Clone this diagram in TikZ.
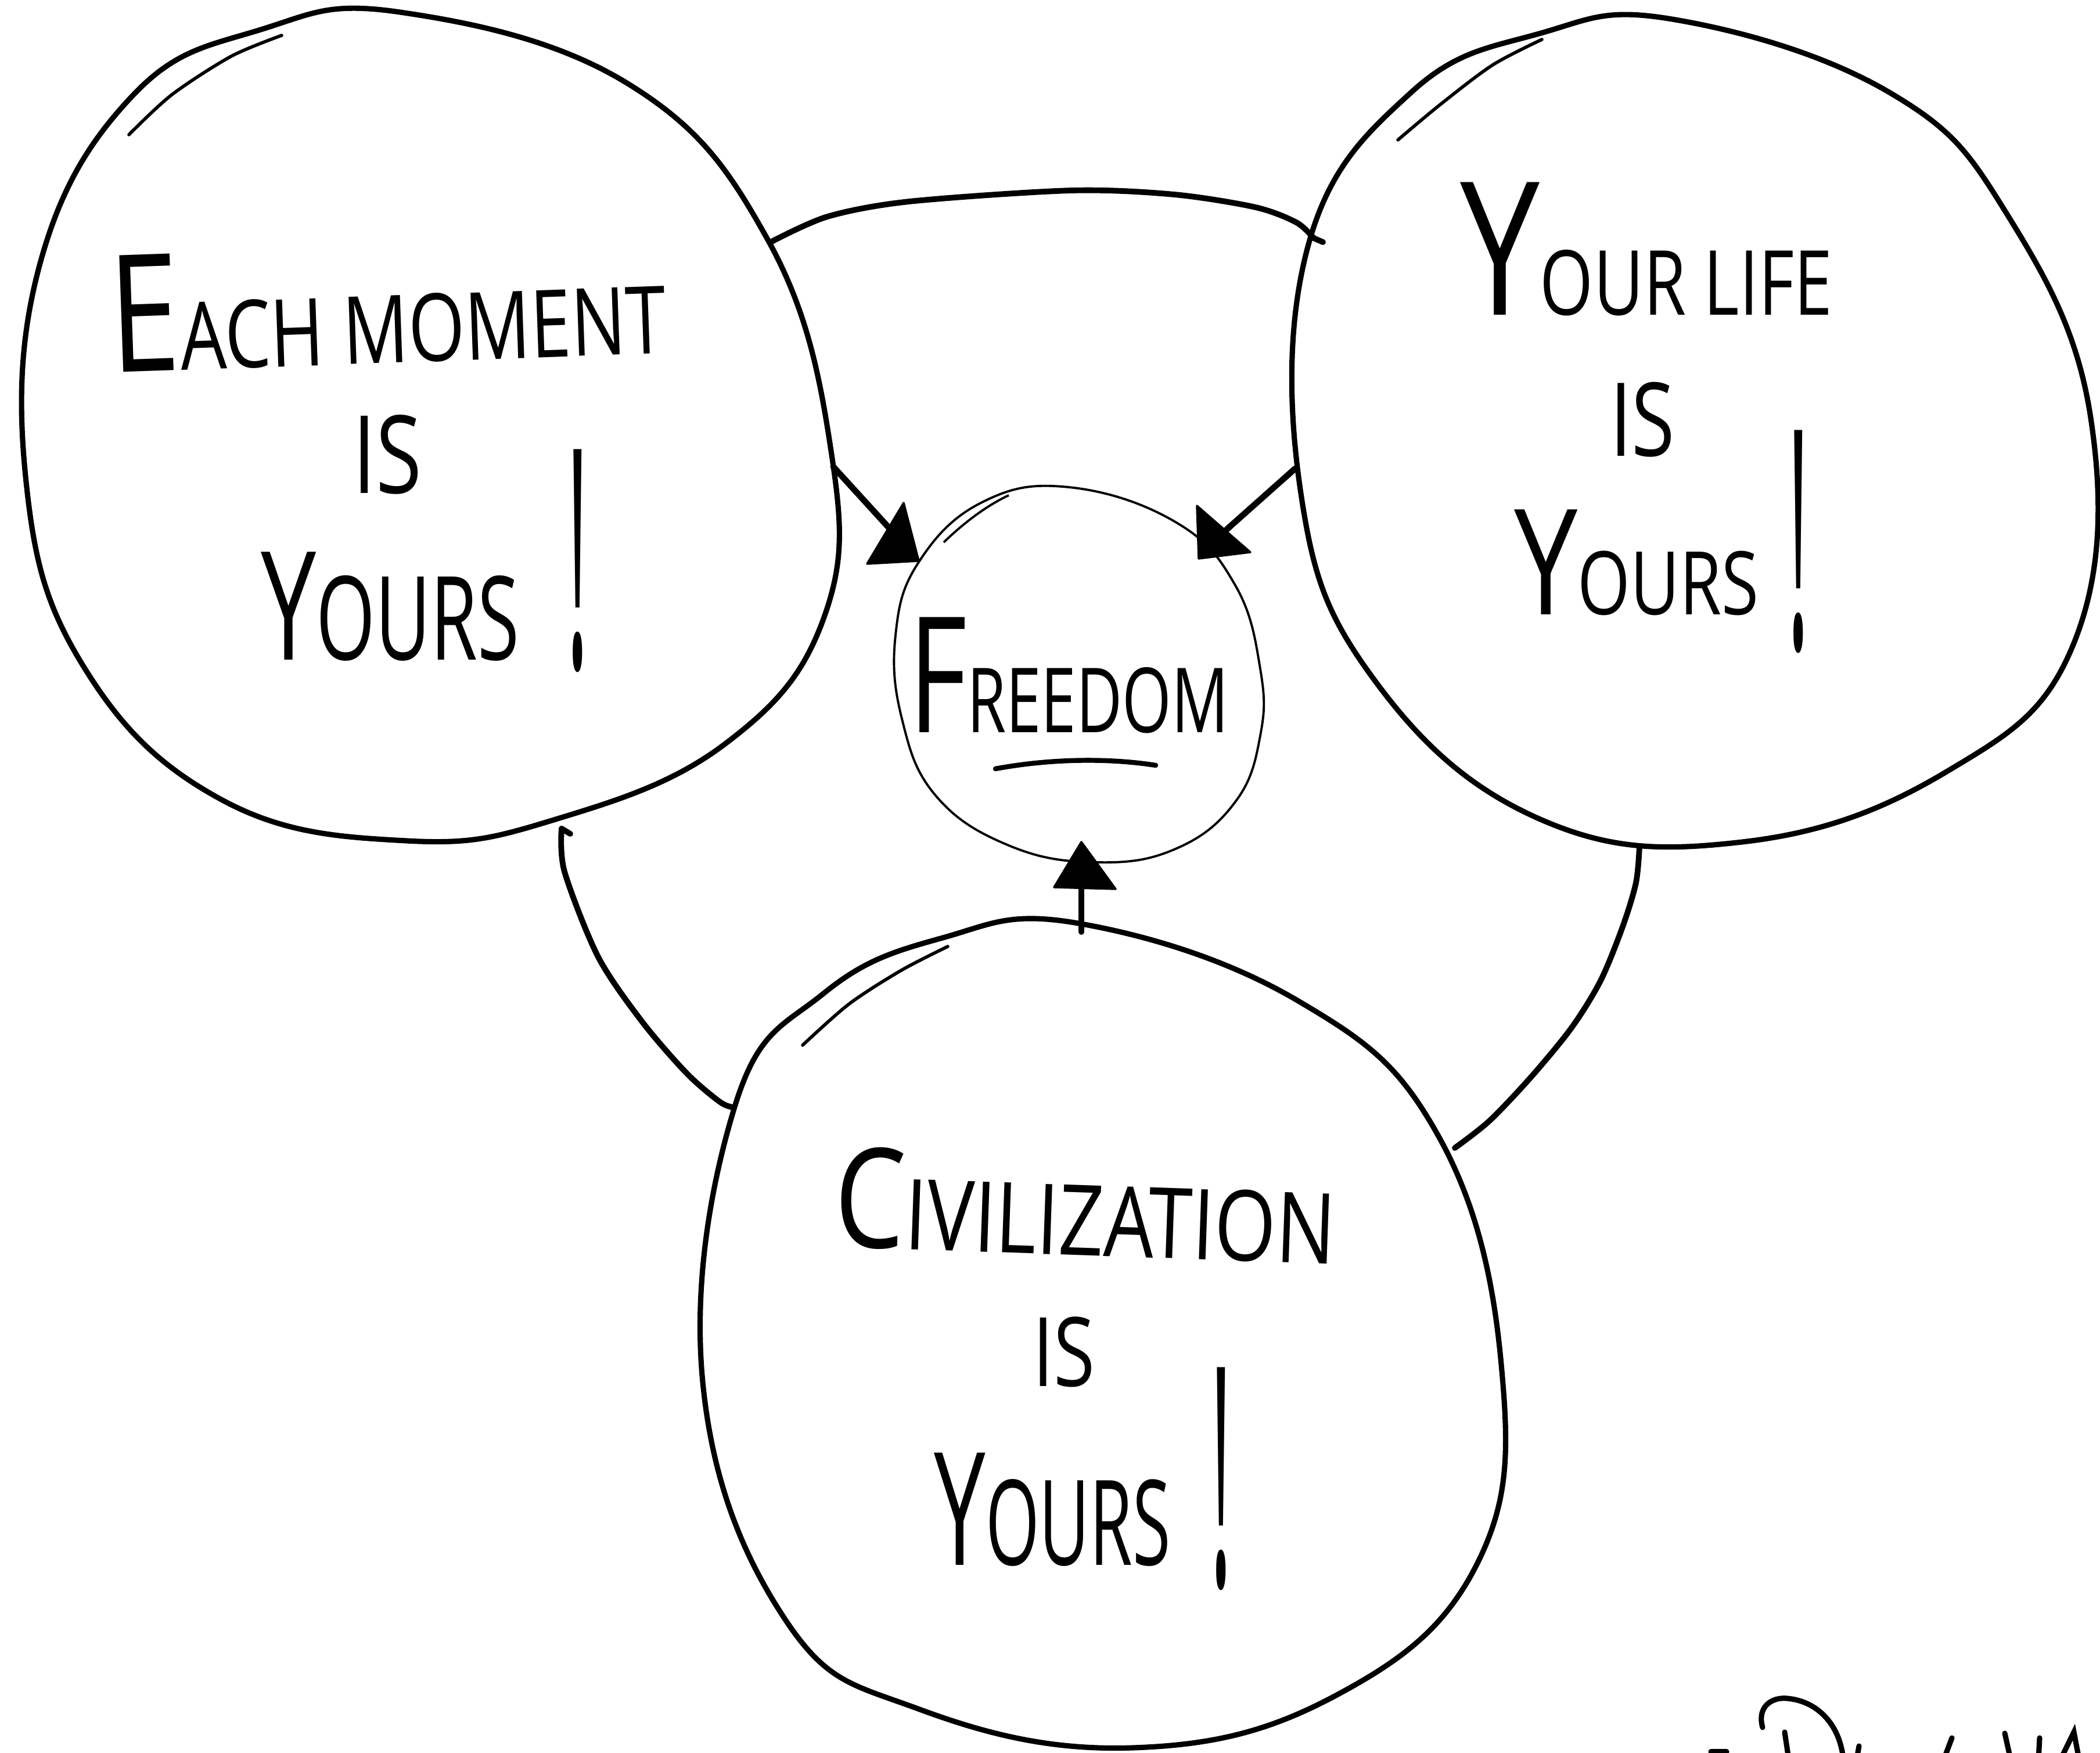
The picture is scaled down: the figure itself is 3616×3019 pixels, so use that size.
\documentclass[tikz,border=0pt]{standalone}
\usepackage{fontspec}
\setmainfont{Open Sans}
\usepackage{graphicx}
\newcommand\hwline[2]{\resizebox{#1}{\height}{#2}}
\newcommand\fs[2]{{\fontsize{#1}{#1}\selectfont #2}}
\newcommand\bang{\scalebox{0.65}[2.5]{\fontsize{60}{60}\selectfont !}}
\tikzset{
  bubble/.style={line width=2.6pt, line join=round},
  echo/.style={line width=1.6pt, line cap=round},
  core/.style={line width=1.1pt},
  conn/.style={line width=2.8pt, line cap=round, line join=round},
  tip/.style={fill=black, draw=black, line width=1pt, line join=round},
  hand/.style={inner sep=0pt, anchor=base, text=black},
  sig/.style={line width=2.6pt, line cap=round}
}
\begin{document}
\begin{tikzpicture}[x=0.01cm, y=-0.01cm]
\useasboundingbox (0,0) rectangle (3616,3019);
\clip (0,0) rectangle (3616,3019);
\fill[white] (0,0) rectangle (3616,3019);

% ---- left bubble
\coordinate (Lc) at (739,735);
\draw[bubble] plot[smooth cycle, tension=0.7] coordinates {
 (689,21) (1081,144) (1321,411) (1430,770) (1420,1060) (1250,1280)
 (960,1410) (700,1448) (383,1378) (144,1148) (45,830) (70,450)
 (230,163) (449,51)};
\draw[echo] plot[smooth, tension=0.5] coordinates {(222,232) (296,163) (398,97) (485,61)};

% ---- right bubble
\coordinate (Rc) at (2917,743);
\draw[bubble] plot[smooth cycle, tension=0.7] coordinates {
 (2879,33) (3253,159) (3459,374) (3600,720) (3570,1110) (3350,1330)
 (3000,1450) (2650,1410) (2365,1169) (2240,850) (2253,421) (2430,159)
 (2650,58)};
\draw[echo] plot[smooth, tension=0.5] coordinates {(2407,241) (2480,180) (2570,112) (2655,68)};

% ---- bottom bubble
\coordinate (Bc) at (1896,2294);
\draw[bubble] plot[smooth cycle, tension=0.7] coordinates {
 (1856,1590) (2234,1723) (2476,1955) (2585,2350) (2544,2692) (2300,2920)
 (1950,3010) (1584,2944) (1352,2789) (1210,2380) (1266,1903) (1418,1711)
 (1620,1616)};
\draw[echo] plot[smooth, tension=0.5] coordinates {(1382,1800) (1462,1729) (1552,1671) (1632,1630)};

% ---- centre bubble
\coordinate (Fc) at (1859,1162);
\draw[core] plot[smooth cycle, tension=0.7] coordinates {
 (1840,839) (2024,899) (2127,1008) (2170,1152) (2170,1267) (2127,1381)
 (2024,1462) (1886,1485) (1737,1456) (1611,1370) (1553,1238) (1542,1094)
 (1582,968) (1691,865)};
\draw[core] (1625,934) .. controls (1660,900) and (1700,870) .. (1737,853);

% ---- texts
\node[hand, rotate=2] (lt1) at (670,625)
  {\hwline{9.57cm}{\fs{80pt}{E}\fs{46pt}{ACH MOMENT}}};
\node[hand] (lt2) at (667,850) {\hwline{1.19cm}{\fs{53pt}{IS}}};
\node[hand] (lt3) at (672,1136) {\hwline{4.45cm}{\fs{74pt}{Y}\fs{57pt}{OURS}}};
\node[hand] (lt4) at (995,1150) {\bang};

\node[hand] (rt1) at (2835,543) {\hwline{6.40cm}{\fs{91pt}{Y}\fs{44pt}{OUR LIFE}}};
\node[hand] (rt2) at (2828,785) {\hwline{1.12cm}{\fs{50pt}{IS}}};
\node[hand] (rt3) at (2818,1058) {\hwline{4.21cm}{\fs{72pt}{Y}\fs{43pt}{OURS}}};
\node[hand] (rt4) at (3097,1117) {\bang};

\node[hand, rotate=-2] (bt1) at (1866,2162) {\hwline{8.63cm}{\fs{68pt}{C}\fs{48pt}{IVILIZATION}}};
\node[hand] (bt2) at (1832,2387) {\hwline{1.07cm}{\fs{47pt}{IS}}};
\node[hand] (bt3) at (1812,2695) {\hwline{4.07cm}{\fs{77pt}{Y}\fs{58pt}{OURS}}};
\node[hand] (bt4) at (2103,2731) {\bang};

\node[hand] (free) at (1840,1261) {\hwline{5.51cm}{\fs{79pt}{F}\fs{44pt}{REEDOM}}};
\draw[conn, line width=2.4pt] (1714,1324) .. controls (1800,1308) and (1900,1304) .. (1990,1318);

% ---- arrows into FREEDOM
\coordinate (LA) at (1435,804);
\coordinate (LAe) at (1548,928);
\draw[conn, line width=3pt] (LA) -- (LAe);
\filldraw[tip] (1556,866) -- (1493,971) -- (1582,966) -- cycle;

\coordinate (RA) at (2230,807);
\coordinate (RAe) at (2112,912);
\draw[conn, line width=3pt] (RA) -- (RAe);
\filldraw[tip] (2061,871) -- (2064,962) -- (2153,951) -- cycle;

\coordinate (BA) at (1862,1605);
\coordinate (BAe) at (1862,1500);
\draw[conn] (BA) -- (BAe);
\filldraw[tip] (1862,1450) -- (1815,1528) -- (1921,1531) -- cycle;

% ---- links between bubbles
\coordinate (T1) at (1327,417);
\coordinate (T2) at (2262,410);
\draw[conn] plot[smooth, tension=0.5] coordinates {(T1) (1425,373) (1566,347) (1846,328) (2022,335) (2162,357) (2232,383) (T2)};
\draw[conn] (T2) -- (2278,417);

\coordinate (M1) at (967,1427);
\coordinate (M2) at (1263,1907);
\draw[conn] plot[smooth, tension=0.5] coordinates {(M1) (972,1501) (1030,1648) (1106,1760) (1183,1849) (1240,1898) (M2)};
\draw[conn] (M1) -- (982,1436);

\coordinate (N1) at (2823,1457);
\coordinate (N2) at (2505,1977);
\draw[conn] plot[smooth, tension=0.5] coordinates {(N1) (2817,1520) (2794,1596) (2756,1689) (2706,1770) (2637,1854) (2565,1930) (N2)};

% ---- signature (cut off at the bottom edge)
\draw[sig] (3035,2975) .. controls (3025,2940) and (3050,2922) .. (3078,2925)
  .. controls (3130,2930) and (3168,2970) .. (3174,3030);
\draw[sig] (3073,2983) -- (3080,3030);
\draw[sig] (3201,3007) -- (3197,3030);
\draw[sig] (3361,2993) -- (3347,3030);
\draw[sig] (3452,2985) -- (3462,3030);
\draw[sig] (3512,2993) -- (3510,3030);
\draw[sig] (3548,3030) -- (3571,2983) -- (3580,3030);
\draw[sig] (2946,3017) -- (2973,3017);
\end{tikzpicture}
\end{document}
